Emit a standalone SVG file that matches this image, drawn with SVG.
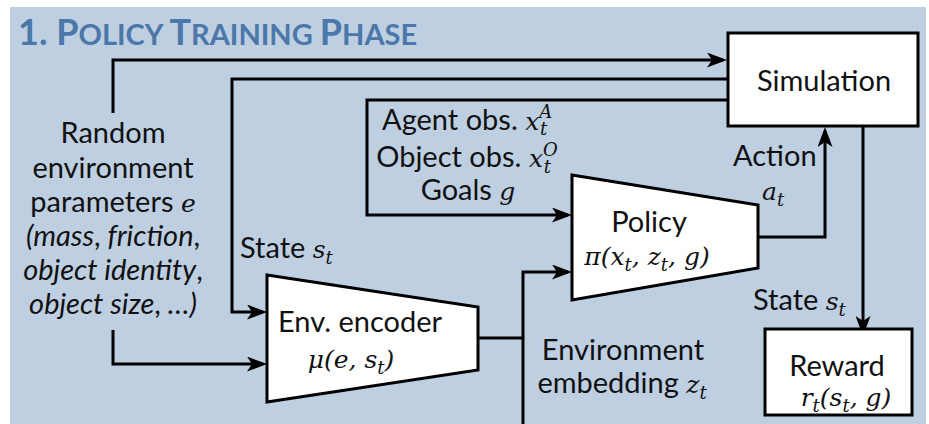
<svg xmlns="http://www.w3.org/2000/svg" width="929" height="424" viewBox="0 0 929 424">
<style>
.t{font-family:Lato,"Open Sans","Liberation Sans",sans-serif;font-size:29px;fill:#111}
.i{font-style:italic}
.m{font-family:"DejaVu Serif","Liberation Serif",serif;font-style:italic;font-size:25px}
.s{font-family:"DejaVu Serif","Liberation Serif",serif;font-style:italic;font-size:18px}
.ttl{font-family:Lato,"Open Sans","Liberation Sans",sans-serif;font-weight:bold;fill:#4b77a9}
.box{fill:#fff;stroke:#000;stroke-width:3}
.ln{fill:none;stroke:#000;stroke-width:3}
.ar{marker-end:url(#ah)}
</style>
<defs>
<marker id="ah" markerUnits="userSpaceOnUse" viewBox="0 0 20 15" refX="16" refY="7.5" markerWidth="20" markerHeight="15" orient="auto">
<path d="M0,0 L20,7.5 L0,15 L5,7.5 Z" fill="#000"/>
</marker>
</defs>
<rect x="0" y="0" width="929" height="424" fill="#fff"/>
<rect x="10" y="7" width="916" height="417" fill="#becfe2"/>
<text class="ttl" x="18" y="45"><tspan font-size="36">1. P</tspan><tspan font-size="29">OLICY </tspan><tspan font-size="36">T</tspan><tspan font-size="29">RAINING </tspan><tspan font-size="36">P</tspan><tspan font-size="29">HASE</tspan></text>

<g id="connectors">
<path class="ln ar" d="M113,113 V60 H723"/>
<path class="ln ar" d="M728,79 H232 V312 H263"/>
<path class="ln ar" d="M728,100 H367 V215 H568"/>
<path class="ln ar" d="M113,330 V364 H263"/>
<path class="ln" d="M478,338 H523"/>
<path class="ln ar" d="M523,424 V272 H568"/>
<path class="ln ar" d="M758,237 H825 V131"/>
<path class="ln ar" d="M863,126 V332"/>
</g>

<g id="simulation">
<rect class="box" x="728" y="33" width="190" height="93"/>
<text class="t" x="824" y="91" text-anchor="middle">Simulation</text>
</g>

<g id="reward">
<rect class="box" x="765" y="329" width="147" height="86"/>
<text class="t" x="837" y="376" text-anchor="middle">Reward</text>
<text class="t" x="846" y="406" text-anchor="middle"><tspan class="m">r</tspan><tspan class="s" dy="6">t</tspan><tspan class="m" dy="-6">(s</tspan><tspan class="s" dy="6">t</tspan><tspan class="m" dy="-6">, g)</tspan></text>
</g>

<g id="policy">
<polygon class="box" points="572,175 758,205 758,268 572,300"/>
<text class="t" x="649" y="232" text-anchor="middle">Policy</text>
<text class="t" x="647" y="265" text-anchor="middle"><tspan class="m">π(x</tspan><tspan class="s" dy="6">t</tspan><tspan class="m" dy="-6">, z</tspan><tspan class="s" dy="6">t</tspan><tspan class="m" dy="-6">, g)</tspan></text>
</g>

<g id="encoder">
<polygon class="box" points="267,275 478,307 478,370 267,402"/>
<text class="t" x="360" y="332" text-anchor="middle">Env. encoder</text>
<text class="t" x="351" y="368" text-anchor="middle"><tspan class="m">μ(e, s</tspan><tspan class="s" dy="6">t</tspan><tspan class="m" dy="-6">)</tspan></text>
</g>

<g id="env-params">
<text class="t" x="113" y="143" text-anchor="middle">Random</text>
<text class="t" x="113" y="178" text-anchor="middle">environment</text>
<text class="t" x="113" y="212" text-anchor="middle">parameters <tspan class="m">e</tspan></text>
<text class="t i" x="113" y="246" text-anchor="middle">(mass<tspan font-style="normal">,</tspan> friction<tspan font-style="normal">,</tspan></text>
<text class="t i" x="113" y="280" text-anchor="middle">object identity<tspan font-style="normal">,</tspan></text>
<text class="t i" x="113" y="314" text-anchor="middle">object size<tspan font-style="normal">,</tspan> …)</text>
</g>

<g id="labels">
<text class="t" x="467" y="130" text-anchor="middle">Agent obs. <tspan class="m">x</tspan><tspan class="s" dy="-12">A</tspan><tspan class="s" dx="-12" dy="17">t</tspan></text>
<text class="t" x="467" y="167" text-anchor="middle">Object obs. <tspan class="m">x</tspan><tspan class="s" dy="-11">O</tspan><tspan class="s" dx="-14" dy="17">t</tspan></text>
<text class="t" x="468" y="200" text-anchor="middle">Goals <tspan class="m">g</tspan></text>
<text class="t" x="240" y="258">State <tspan class="m">s</tspan><tspan class="s" dy="6">t</tspan></text>
<text class="t" x="733" y="166">Action</text>
<text class="t" x="762" y="200"><tspan class="m">a</tspan><tspan class="s" dy="6">t</tspan></text>
<text class="t" x="753" y="310">State <tspan class="m">s</tspan><tspan class="s" dy="6">t</tspan></text>
<text class="t" x="623" y="360" text-anchor="middle">Environment</text>
<text class="t" x="622" y="393" text-anchor="middle">embedding <tspan class="m">z</tspan><tspan class="s" dy="6">t</tspan></text>
</g>
</svg>
